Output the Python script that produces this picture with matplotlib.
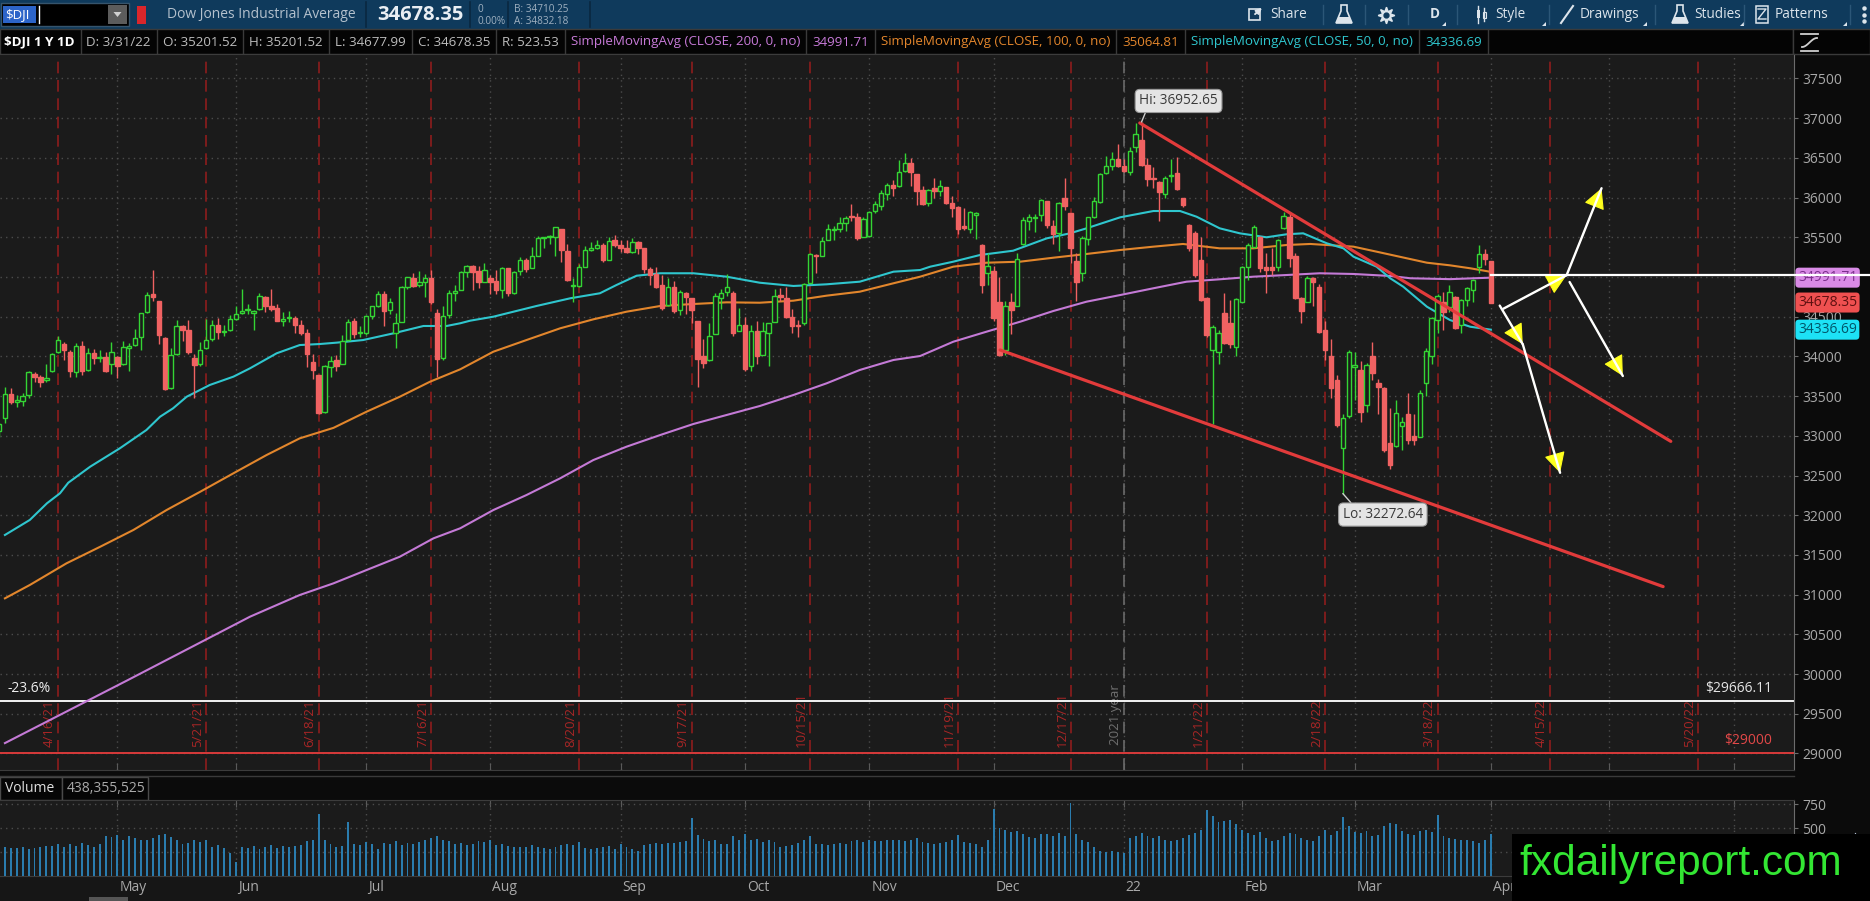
import numpy as np
import pandas as pd
import matplotlib
matplotlib.use("Agg")
import matplotlib.pyplot as plt
import matplotlib.transforms as mtrans
from matplotlib.patches import Rectangle, Polygon, FancyArrowPatch

plt.rcParams["font.family"] = ["Open Sans", "DejaVu Sans"]

# ------------------------------------------------------------------ data
holidays = ["2021-04-02", "2021-05-31", "2021-07-05", "2021-09-06", "2021-11-25",
            "2021-12-24", "2022-01-17", "2022-02-21", "2022-04-15", "2022-05-30",
            "2022-06-20"]
days = pd.bdate_range("2021-04-01", "2022-06-30")
days = days[~days.isin(pd.to_datetime(holidays))]

closes = [
    33153, 33527, 33430, 33446, 33504, 33801, 33745, 33677, 33731, 34036, 34201, 34078, 33821, 34137, 33816, 34043, 33982, 33985, 33820, 34060, 33875,
    34113, 34133, 34230, 34549, 34778, 34743, 34269, 33588, 34021, 34382, 34328, 34061, 33896, 34084, 34208, 34394, 34312, 34323, 34465, 34529,
    34575, 34600, 34577, 34756, 34630, 34600, 34447, 34466, 34480, 34394, 34299, 34034, 33823, 33290, 33877, 33946, 33874, 34197, 34434, 34283, 34292, 34503,
    34634, 34786, 34577, 34682, 34422, 34870, 34996, 34889, 34933, 34987, 34688, 33962, 34512, 34798, 34823, 35062, 35144, 35059, 34931, 35085, 34935,
    34838, 35116, 34793, 35064, 35209, 35102, 35265, 35485, 35500, 35515, 35625, 35343, 34961, 34894, 35120, 35336, 35366, 35406, 35213, 35456, 35400, 35361,
    35313, 35444, 35369, 35100, 35031, 34879, 34608, 34870, 34578, 34814, 34751, 34585, 33970, 33920, 34258, 34765, 34798, 34869, 34300, 34391, 33844,
    34326, 34003, 34315, 34417, 34755, 34746, 34496, 34378, 34378, 34913, 35295, 35259, 35457, 35609, 35603, 35677, 35741, 35757, 35491, 35730, 35820,
    35914, 36053, 36158, 36124, 36328, 36432, 36320, 36080, 35921, 36100, 36087, 36142, 35931, 35871, 35602, 35619, 35814, 35804, 34899, 35136, 34484,
    34022, 34640, 34580, 35227, 35719, 35754, 35755, 35971, 35651, 35544, 35927, 35898, 35365, 34932, 35493, 35754, 35951, 36302, 36398, 36489, 36398, 36338,
    36585, 36800, 36407, 36236, 36232, 36069, 36252, 36290, 36114, 35912, 35368, 35029, 34715, 34265, 34364, 34298, 34168, 34161, 34725, 35132,
    35405, 35629, 35111, 35090, 35091, 35463, 35768, 35242, 34738, 34566, 34989, 34934, 34312, 34079, 33597, 33132, 33224, 34059, 33893,
    33295, 33891, 33795, 33615, 32817, 32633, 33286, 33174, 32944, 32945, 33544, 34063, 34481, 34755, 34553, 34807, 34358, 34708, 34861, 34956, 35294, 35229, 34678.35,
]
opens = [
    33055, 33222, 33527, 33430, 33440, 33520, 33780, 33745, 33700, 33810, 34050, 34150, 34060, 33800, 34130, 33830, 34040, 33980, 33990, 33900, 33990,
    33900, 34110, 34140, 34240, 34560, 34780, 34700, 34230, 33600, 34030, 34380, 34330, 33980, 33900, 34100, 34220, 34400, 34310, 34330, 34470,
    34550, 34580, 34550, 34600, 34750, 34630, 34610, 34450, 34480, 34480, 34390, 34300, 33930, 33770, 33300, 33870, 33950, 33900, 34210, 34440, 34290, 34290,
    34510, 34640, 34790, 34580, 34300, 34430, 34880, 34990, 34900, 34940, 34990, 34550, 33980, 34520, 34800, 34830, 35060, 35140, 35070, 34940, 34990,
    34950, 34840, 35110, 34800, 35070, 35210, 35110, 35270, 35490, 35500, 35510, 35600, 35330, 34890, 34890, 35130, 35340, 35370, 35400, 35220, 35460, 35400,
    35370, 35320, 35440, 35370, 35100, 35040, 34900, 34650, 34880, 34580, 34800, 34740, 34450, 34000, 33950, 34280, 34740, 34810, 34800, 34320, 34400,
    33880, 34320, 34020, 34300, 34430, 34770, 34730, 34500, 34390, 34420, 34930, 35280, 35270, 35470, 35590, 35610, 35680, 35760, 35750, 35500, 35520,
    35830, 35900, 36050, 36160, 36140, 36340, 36440, 36300, 36090, 35930, 36120, 36080, 36130, 35930, 35880, 35640, 35610, 35780, 35400, 35050, 35070,
    34690, 34080, 34690, 34630, 35420, 35700, 35740, 35780, 35960, 35640, 35560, 36000, 35800, 35200, 35050, 35480, 35760, 35940, 36310, 36400, 36490, 36400,
    36320, 36640, 36725, 36410, 36250, 36200, 36040, 36270, 36310, 35995, 35655, 35555, 35212, 34733, 34080, 34060, 34545, 34420, 34122, 34689,
    35125, 35380, 35500, 35130, 35120, 35130, 35620, 35760, 35270, 34740, 34690, 34990, 34880, 34330, 34000, 33700, 32850, 33250, 33870,
    33830, 33390, 34000, 33665, 33600, 32910, 32870, 33120, 33280, 33000, 32990, 33660, 34000, 34460, 34690, 34626, 34752, 34395, 34710, 34836, 35130, 35290, 35201.52,
]
highs = [
    33167, 33617, 33596, 33520, 33545, 33810, 33805, 33760, 33905, 34047, 34256, 34187, 34080, 34166, 34190, 34103, 34090, 34080, 34060, 34180, 34010,
    34190, 34163, 34348, 34549, 34811, 35091, 34700, 34240, 34110, 34460, 34390, 34455, 34030, 34184, 34470, 34460, 34480, 34390, 34525, 34630,
    34850, 34660, 34580, 34800, 34760, 34850, 34660, 34560, 34570, 34510, 34460, 34340, 34030, 33770, 33890, 34000, 34020, 34270, 34470, 34480, 34380, 34520,
    34640, 34820, 34820, 34730, 34550, 34890, 35000, 35050, 35070, 35040, 35090, 34600, 34630, 34830, 34900, 35080, 35150, 35150, 35140, 35170, 35030,
    35090, 35130, 35110, 35080, 35250, 35240, 35380, 35520, 35510, 35530, 35630, 35600, 35420, 34990, 35160, 35390, 35440, 35470, 35430, 35510, 35530, 35470,
    35460, 35490, 35450, 35370, 35130, 35120, 35030, 34990, 34950, 34830, 34810, 34740, 34450, 34220, 34420, 34800, 34850, 35040, 34820, 34610, 34490,
    34400, 34450, 34430, 34420, 34850, 34860, 34880, 34600, 34460, 34930, 35300, 35290, 35500, 35670, 35640, 35760, 35770, 35920, 35800, 35760, 35830,
    35960, 36090, 36190, 36220, 36470, 36565, 36500, 36300, 36140, 36110, 36250, 36220, 36130, 36020, 35900, 35870, 35830, 35820, 35410, 35300, 35140,
    35000, 34700, 34800, 35300, 35750, 35790, 35790, 35980, 35960, 35720, 35950, 36250, 35800, 35300, 35520, 35760, 36010, 36310, 36530, 36570, 36680, 36490,
    36640, 36935, 36952.65, 36500, 36390, 36210, 36270, 36480, 36510, 36000, 35670, 35580, 35500, 34750, 34400, 34330, 34800, 34710, 34740, 35140,
    35430, 35650, 35520, 35300, 35360, 35480, 35824, 35820, 35300, 34750, 35010, 35000, 34910, 34440, 34220, 33760, 33280, 34080, 34050,
    33940, 33920, 34180, 33720, 33620, 33350, 33450, 33240, 33540, 33270, 33580, 34100, 34500, 34780, 34815, 34900, 34760, 34720, 34870, 34970, 35400, 35350, 35201.52,
]
lows = [
    32985, 33155, 33400, 33365, 33371, 33480, 33680, 33616, 33680, 33800, 34044, 33950, 33738, 33740, 33760, 33810, 33900, 33930, 33800, 33780, 33730,
    33890, 33810, 34132, 34080, 34550, 34700, 34160, 33575, 33590, 34020, 34200, 34030, 33473, 33880, 34090, 34200, 34220, 34260, 34320, 34460,
    34530, 34530, 34335, 34590, 34560, 34570, 34440, 34380, 34430, 34290, 34270, 33870, 33720, 33270, 33290, 33740, 33820, 33900, 34200, 34230, 34250, 34270,
    34470, 34620, 34380, 34530, 34100, 34430, 34850, 34880, 34870, 34750, 34660, 33740, 33950, 34480, 34700, 34850, 35000, 34830, 34860, 34950, 34790,
    34790, 34730, 34760, 34790, 35030, 35060, 35110, 35270, 35370, 35410, 35260, 35190, 34950, 34690, 34880, 35120, 35330, 35350, 35190, 35220, 35380, 35310,
    35300, 35300, 35290, 35050, 34900, 34860, 34590, 34640, 34550, 34520, 34530, 34420, 33610, 33860, 33940, 34280, 34600, 34760, 34260, 34330, 33820,
    33820, 33900, 34020, 33880, 34430, 34700, 34480, 34300, 34240, 34400, 34920, 35050, 35260, 35460, 35460, 35570, 35580, 35700, 35470, 35500, 35510,
    35800, 35840, 35970, 36020, 36130, 36320, 36150, 35910, 35910, 35890, 35990, 36020, 35920, 35750, 35540, 35590, 35560, 35480, 34800, 34900, 34440,
    34010, 34020, 34280, 34630, 35400, 35590, 35570, 35700, 35620, 35420, 35330, 35840, 35180, 34700, 34950, 35400, 35740, 35930, 36300, 36350, 36390, 36320,
    36280, 36580, 36400, 36150, 36120, 35700, 36000, 36200, 36090, 35880, 35330, 35000, 34700, 34240, 33150, 33900, 34150, 34100, 34000, 34680,
    34960, 35370, 35060, 34800, 35020, 35080, 35600, 35120, 34720, 34420, 34680, 34640, 34290, 33960, 33480, 33110, 32272.64, 33230, 33450,
    33180, 33300, 33700, 33270, 32800, 32578, 32860, 32820, 32900, 32880, 32980, 33500, 33900, 34300, 34332, 34560, 34340, 34300, 34640, 34690, 35050, 35150, 34677.99,
]
volumes = [  # millions
    280, 300, 290, 295, 300, 285, 290, 300, 315, 310, 335, 300, 330, 315, 345, 320, 305, 335, 420, 410, 430,
    380, 420, 400, 380, 370, 400, 430, 440, 410, 380, 330, 340, 370, 350, 380, 300, 320, 290, 240, 150,
    300, 290, 310, 280, 300, 320, 290, 310, 300, 310, 320, 360, 380, 650, 380, 330, 300, 310, 560, 330, 320, 350,
    330, 280, 340, 330, 360, 320, 340, 330, 350, 370, 400, 420, 380, 360, 330, 340, 320, 330, 360, 350, 380,
    320, 330, 310, 300, 300, 300, 320, 300, 290, 280, 300, 320, 330, 320, 350, 290, 280, 290, 300, 310, 280, 330,
    300, 280, 260, 320, 330, 340, 330, 340, 340, 350, 360, 600, 430, 390, 360, 370, 330, 330, 420, 380, 440,
    380, 390, 350, 370, 350, 300, 310, 320, 340, 370, 420, 330, 330, 320, 330, 340, 330, 360, 370, 350, 380,
    360, 360, 370, 370, 380, 360, 380, 400, 350, 340, 330, 340, 350, 380, 430, 350, 340, 330, 300, 380, 700,
    500, 480, 460, 470, 440, 410, 400, 440, 440, 420, 450, 420, 760, 440, 380, 350, 300, 260, 250, 260, 250, 240,
    400, 420, 450, 420, 400, 420, 380, 360, 380, 400, 430, 450, 480, 690, 620, 560, 570, 580, 540, 480,
    450, 430, 460, 400, 360, 380, 420, 450, 440, 400, 380, 360, 420, 480, 430, 470, 615, 520, 460,
    450, 470, 420, 430, 520, 550, 540, 470, 440, 430, 470, 480, 460, 635, 420, 400, 390, 380, 370, 360, 340, 380, 438.355525,
]

# moving averages (bar index, value)
sma200_x = [1.0, 21.8, 42.4, 50.8, 56.5, 62.1, 67.7, 73.4, 77.9, 83.5, 89.1, 94.8, 100.4, 106.0, 111.7, 117.3, 122.9, 128.5, 134.2, 139.8,
            145.4, 151.1, 155.6, 161.2, 166.8, 172.5, 178.1, 183.7, 189.4, 195.0, 200.6, 206.2, 211.9, 217.5, 223.1, 228.8, 235.0, 238.4, 245.1, 252.0]
sma200_y = [29130, 29925, 30722, 30995, 31142, 31310, 31477, 31709, 31835, 32065, 32254, 32465, 32695, 32863, 33010, 33149, 33262, 33375, 33514, 33661,
            33829, 33955, 34005, 34185, 34311, 34437, 34572, 34689, 34773, 34858, 34941, 34971, 35004, 35025, 35047, 35038, 35013, 34984, 34973, 34991.71]
sma100_x = [1.0, 5.2, 11.4, 17.1, 22.7, 28.3, 34.0, 39.6, 45.2, 50.8, 56.5, 62.1, 67.7, 72.8, 77.9, 83.5, 89.1, 94.8, 100.4, 106.0,
            111.7, 117.3, 122.9, 128.5, 134.2, 139.8, 145.4, 151.1, 155.6, 161.2, 166.8, 172.5, 178.1, 183.7, 189.4, 195.0, 200.0, 206.2, 211.9, 217.5,
            221.5, 228.8, 232.7, 241.2, 245.1, 248.5, 252.0]
sma100_y = [30953, 31121, 31394, 31603, 31814, 32065, 32296, 32528, 32758, 32968, 33100, 33304, 33492, 33681, 33837, 34059, 34206, 34354, 34467, 34563,
            34635, 34660, 34681, 34676, 34702, 34765, 34815, 34921, 35004, 35130, 35180, 35193, 35243, 35290, 35340, 35382, 35416, 35361, 35361, 35403,
            35416, 35382, 35319, 35180, 35147, 35110, 35064.81]
sma50_x = [1.0, 5.2, 8.1, 10.3, 11.7, 15.4, 20.4, 24.9, 27.2, 29.4, 31.7, 35.6, 39.6, 42.4, 46.9, 50.8, 54.2, 57.0, 61.5, 66.6,
           71.7, 75.6, 77.9, 79.6, 83.5, 90.8, 96.5, 101.5, 104.3, 107.7, 111.7, 117.3, 122.9, 128.5, 134.2, 139.8, 145.4, 151.1, 155.6, 157.3,
           161.2, 165.7, 171.3, 177.0, 180.9, 183.7, 189.4, 195.0, 199.5, 202.3, 206.2, 209.6, 214.1, 217.5, 220.3, 224.3, 227.1, 228.8, 232.7, 235.0,
           237.2, 241.2, 245.1, 248.5, 252.0]
sma50_y = [31751, 31940, 32150, 32276, 32409, 32611, 32842, 33073, 33240, 33346, 33492, 33640, 33745, 33850, 34039, 34143, 34156, 34173, 34206, 34290,
           34383, 34383, 34417, 34450, 34500, 34635, 34732, 34795, 34899, 35016, 35047, 35047, 35004, 34928, 34887, 34908, 34941, 35067, 35088, 35130,
           35193, 35277, 35331, 35487, 35550, 35613, 35752, 35831, 35831, 35759, 35613, 35550, 35500, 35538, 35550, 35424, 35361, 35256, 35130, 34984,
           34878, 34626, 34458, 34374, 34336.69]

# analyst drawings (bar index, price)
upper_trend = ([192.7, 282.4], [36940, 32930])
lower_trend = ([169.1, 281.1], [34081, 31101])
level_line = 35030
fib_level, fib_label = 29666.11, "-23.6%"
support_level = 29000
arrows = [((253.5, 34640), (257.4, 34152)), ((257.4, 34152), (263.7, 32534)),
          ((254.1, 34600), (264.8, 35023)), ((264.8, 35023), (270.7, 36118)),
          ((265.3, 34937), (274.3, 33753))]
expirations = ["2021-04-16", "2021-05-21", "2021-06-18", "2021-07-16", "2021-08-20", "2021-09-17",
               "2021-10-15", "2021-11-19", "2021-12-17", "2022-01-21", "2022-02-18", "2022-03-18",
               "2022-04-15", "2022-05-20"]
month_names = ["May", "Jun", "Jul", "Aug", "Sep", "Oct", "Nov", "Dec", "22", "Feb", "Mar", "Apr"]
bid, ask = 34710.25, 34832.18
last_volume = 438355525

n = len(closes)
assert len(opens) == n and len(highs) == n and len(lows) == n and len(volumes) == n
o = np.array(opens, float); c = np.array(closes, float)
h = np.array(highs, float); l = np.array(lows, float)
xi = np.arange(n)

def day_index(d):
    return np.searchsorted(days, pd.Timestamp(d), side="right") - 1

month_starts = pd.date_range("2021-05-01", "2022-06-01", freq="MS")
month_pos = [np.searchsorted(days, m) - 1 for m in month_starts]

# ------------------------------------------------------------------ figure / layout
W, H = 1870, 901
BAR_PX, X0_PX = 5.92, -1.0
CHART_R = 1794
fig = plt.figure(figsize=(W / 100, H / 100), dpi=100)
fig.patch.set_facecolor("#0b0b0b")

def px_axes(left, top, right, bottom, **kw):
    return fig.add_axes([left / W, 1 - bottom / H, (right - left) / W, (bottom - top) / H], **kw)

ui = fig.add_axes([0, 0, 1, 1], zorder=-5)
ui.set_xlim(0, W); ui.set_ylim(H, 0); ui.axis("off")

ax = px_axes(0, 54, CHART_R, 770)
vol = px_axes(0, 800, CHART_R, 876)
xlim = ((0 - X0_PX) / BAR_PX, (CHART_R - X0_PX) / BAR_PX)
GRID = dict(color="#4c4c4c", linestyle=(0, (1, 3)), linewidth=1.0)
TXT = "#a9a9a9"
BG = "#1b1b1b"
FS = 10

for a in (ax, vol):
    a.set_facecolor(BG)
    a.set_xlim(*xlim)
    a.spines["left"].set_visible(False)
    a.spines["right"].set_color("#6c6c6c")
    a.spines["top"].set_color("#3c3c3c")
    a.spines["bottom"].set_color("#3c3c3c")
    a.yaxis.tick_right()
    a.set_xticks(month_pos)
    a.set_xticklabels([])
    a.grid(True, **GRID)
    a.set_axisbelow(True)
    a.tick_params(axis="y", colors="#6c6c6c", labelcolor=TXT, labelsize=FS, length=3, pad=3)
ax.tick_params(axis="x", direction="in", length=5, colors="#5a5a5a", bottom=True, top=False)
vol.tick_params(axis="x", direction="in", length=5, colors="#5a5a5a", bottom=False, top=True)

ax.set_ylim(28791.2, 37808.4)
ax.set_yticks(np.arange(29000, 37501, 500))
ax.set_yticklabels([f"{v:d}" for v in range(29000, 37501, 500)])
vol.set_ylim(0, 791.7)
vol.set_yticks([250, 500, 750])
vol.set_yticklabels(["250", "500", "750"])

bt = mtrans.blended_transform_factory(ax.transData, ax.transAxes)
rt = mtrans.blended_transform_factory(ax.transAxes, ax.transData)

# expiration lines + year marker
for d in expirations:
    k = day_index(d)
    ax.axvline(k, color="#8e1d1d", lw=1.2, linestyle=(0, (7, 4)), zorder=1)
    ts = pd.Timestamp(d)
    ax.text(k - 0.35, 0.032, f"{ts.month}/{ts.day}/{ts.strftime('%y')}", transform=bt, rotation=90,
            ha="right", va="bottom", color="#a82626", fontsize=9.5, zorder=1)
yk = day_index("2021-12-31")
ax.axvline(yk, color="#6a6a6a", lw=1.2, linestyle=(0, (7, 4)), zorder=1)
ax.text(yk - 0.35, 0.035, "2021 year", transform=bt, rotation=90, ha="right", va="bottom",
        color="#707070", fontsize=9.5, zorder=1)

# fib / support lines
ax.axhline(fib_level, color="#f2f2f2", lw=1.4, zorder=2)
ax.axhline(support_level, color="#d83a3a", lw=1.4, zorder=2)
ax.annotate(fib_label, xy=(0.004, fib_level), xycoords=rt, xytext=(0, 5), textcoords="offset pixels",
            ha="left", va="bottom", color="#eeeeee", fontsize=FS)
ax.annotate(f"\\${fib_level:.2f}", xy=(0.9877, fib_level), xycoords=rt, xytext=(0, 5),
            textcoords="offset pixels", ha="right", va="bottom", color="#e4e4e4", fontsize=FS)
ax.annotate(f"\\${support_level:d}", xy=(0.9877, support_level), xycoords=rt, xytext=(0, 5),
            textcoords="offset pixels", ha="right", va="bottom", color="#e24848", fontsize=FS)

# moving averages
ax.plot(sma200_x, sma200_y, color="#c47ad6", lw=1.5, zorder=3)
ax.plot(sma100_x, sma100_y, color="#e2862c", lw=1.5, zorder=3)
ax.plot(sma50_x, sma50_y, color="#2fc6ce", lw=1.5, zorder=3)

# candles: hollow green up bars, filled red down bars
up = c >= o
edge = np.where(up, "#34d434", "#f06262")
face = np.where(up, BG, "#f06262")
ax.vlines(xi, l, h, colors=edge, lw=1.0, zorder=4)
body_lo = np.minimum(o, c)
body_h = np.maximum(np.abs(c - o), 14)
ax.bar(xi, body_h, bottom=body_lo, width=0.74, color=face, edgecolor=edge, linewidth=1.0, zorder=5)

# trend lines
ax.plot(*upper_trend, color="#e23b3b", lw=2.3, solid_capstyle="round", zorder=6)
ax.plot(*lower_trend, color="#e23b3b", lw=2.3, solid_capstyle="round", zorder=6)

# scenario arrows: yellow heads under white shafts
for (x0, y0), (x1, y1) in arrows:
    ax.add_patch(FancyArrowPatch((x0, y0), (x1, y1), arrowstyle="-|>,head_length=0.8,head_width=0.42",
                                 mutation_scale=16, fc="#ffff1e", ec="#ffff1e", lw=0.8,
                                 shrinkA=0, shrinkB=0, clip_on=False, zorder=8))
    ax.plot([x0, x1], [y0, y1], color="white", lw=1.7, solid_capstyle="round", clip_on=False, zorder=9)

# horizontal level from last bar into the price scale
ax.plot([n - 1, (W - X0_PX) / BAR_PX], [level_line, level_line], color="white", lw=1.6,
        clip_on=False, zorder=9)

# hi / lo callouts
ih, il = int(np.argmax(h)), int(np.argmin(l))
box = dict(boxstyle="round,pad=0.3,rounding_size=0.35", fc="#e4e4e4", ec="#9a9a9a", lw=0.8)
ax.annotate(f"Hi: {h[ih]:.2f}", xy=(ih, h[ih]), xytext=(37, 21), textcoords="offset pixels",
            ha="center", va="center", fontsize=9.8, color="#3a3a3a", bbox=box, zorder=9,
            arrowprops=dict(arrowstyle="-", color="#cfcfcf", lw=1.0, shrinkA=0, shrinkB=0, relpos=(0.1, 0)))
ax.annotate(f"Lo: {l[il]:.2f}", xy=(il, l[il]), xytext=(40, -21), textcoords="offset pixels",
            ha="center", va="center", fontsize=9.8, color="#3a3a3a", bbox=box, zorder=9,
            arrowprops=dict(arrowstyle="-", color="#cfcfcf", lw=1.0, shrinkA=0, shrinkB=0, relpos=(0.15, 1)))

# price bubbles on the scale
for val, fc, tc in [(sma200_y[-1], "#d98be6", "#7b2f8c"), (closes[-1], "#ef5050", "#5e1010"),
                    (sma50_y[-1], "#1de2f6", "#00566a")]:
    ax.text(1.0022, val, f"{val:.2f}", transform=rt, ha="left", va="center", fontsize=FS, color=tc,
            bbox=dict(boxstyle="round,pad=0.18,rounding_size=0.25", fc=fc, ec="none"), clip_on=False, zorder=7)

# volume
vol.bar(xi, volumes, width=0.32, color="#2a7cae", linewidth=0, zorder=3)
vbt = mtrans.blended_transform_factory(vol.transData, vol.transAxes)
for pos, name in zip(month_pos, month_names):
    vol.text(pos + 0.35, -0.15, name, transform=vbt, ha="left", va="center", color=TXT, fontsize=FS, clip_on=False)

# ------------------------------------------------------------------ chrome
ui.add_patch(Rectangle((0, 0), W, 29, fc="#0f3a5c", ec="none"))
ui.add_patch(Rectangle((1, 3), 128, 23, fc="#000000", ec="#36546c", lw=1))
ui.add_patch(Rectangle((3, 6), 33, 17, fc="#2c64c8", ec="none"))
ui.text(5, 14.5, "\\$DJI", color="white", fontsize=9.5, va="center", ha="left")
ui.plot([38.5, 38.5], [6, 23], color="white", lw=1)
ui.add_patch(Rectangle((108, 5), 19, 19, fc="#5c5c5c", ec="none"))
ui.add_patch(Polygon([[113.5, 12], [121.5, 12], [117.5, 17]], closed=True, fc="#d0d0d0", ec="none"))
ui.add_patch(Rectangle((137, 6), 9, 18, fc="#d9262b", ec="none"))
ui.text(167, 14.5, "Dow Jones Industrial Average", color="#b4c1cd", fontsize=10, va="center")
for sx in [366, 470, 508, 590]:
    ui.plot([sx, sx], [2, 27], color="#0a2740", lw=1.2)
ui.text(377, 14.5, f"{closes[-1]:.2f}", color="#e9eef3", fontsize=14.5, fontweight="bold", va="center")
ui.text(478, 9, "0", color="#9fb0c0", fontsize=7.2, va="center")
ui.text(478, 21, "0.00%", color="#9fb0c0", fontsize=7.2, va="center")
ui.text(514, 9, f"B: {bid:.2f}", color="#9fb0c0", fontsize=7.2, va="center")
ui.text(514, 21, f"A: {ask:.2f}", color="#9fb0c0", fontsize=7.2, va="center")

TB = "#dde5ec"
TFS = 9.8
ui.add_patch(Rectangle((1249, 9), 11, 11, fc="none", ec=TB, lw=1.2))
ui.annotate("", xy=(1264, 6), xytext=(1253, 16), arrowprops=dict(arrowstyle="-|>", color=TB, lw=1.4, mutation_scale=8))
ui.text(1270, 14.5, "Share", color=TB, fontsize=TFS, va="center")
for fx in (1344, 1680):
    ui.add_patch(Polygon([[fx - 3, 5], [fx + 3, 5], [fx + 3, 11], [fx + 8, 23], [fx - 8, 23], [fx - 3, 11]],
                         closed=True, fc="none", ec=TB, lw=1.2))
    ui.add_patch(Polygon([[fx - 5.5, 17], [fx + 5.5, 17], [fx + 8, 23], [fx - 8, 23]], closed=True, fc=TB, ec="none"))
ui.plot(1385.5, 14.5, marker=(8, 1, 0), ms=12, color=TB)
ui.plot(1385.5, 14.5, marker="o", ms=3.5, color="#0f3a5c")
ui.text(1430, 14.5, "D", color=TB, fontsize=TFS, va="center", fontweight="bold")
ui.plot([1478, 1478], [6, 23], color=TB, lw=1); ui.add_patch(Rectangle((1476.5, 10), 3, 8, fc=TB, ec="none"))
ui.plot([1484, 1484], [8, 21], color=TB, lw=1); ui.add_patch(Rectangle((1482.5, 12), 3, 6, fc="none", ec=TB, lw=0.8))
ui.text(1495, 14.5, "Style", color=TB, fontsize=TFS, va="center")
ui.plot([1561, 1573], [23, 6], color=TB, lw=1.5)
ui.text(1580, 14.5, "Drawings", color=TB, fontsize=TFS, va="center")
ui.text(1694, 14.5, "Studies", color=TB, fontsize=TFS, va="center")
ui.add_patch(Rectangle((1756, 6), 12, 17, fc="none", ec=TB, lw=1.1))
ui.plot([1758, 1766, 1758, 1766], [9, 9, 19, 19], color=TB, lw=1)
ui.text(1775, 14.5, "Patterns", color=TB, fontsize=TFS, va="center")
ui.plot([1864, 1864, 1864], [8, 14.5, 21], "o", ms=2.2, color=TB)
for sx in [1323, 1365, 1408, 1457, 1549, 1655, 1744, 1850]:
    ui.plot([sx, sx], [5, 24], color="#2b5677", lw=1)
for tx in [1442, 1542, 1643, 1740, 1843]:
    ui.add_patch(Polygon([[tx, 26], [tx + 4, 26], [tx + 4, 22]], closed=True, fc=TB, ec="none"))

# study header row
ui.add_patch(Rectangle((0, 29), 1793, 25, fc="#040404", ec="#3a3a3a", lw=1))
ui.add_patch(Rectangle((1793, 29), 77, 25, fc="#040404", ec="#3a3a3a", lw=1))
ui.plot([1801, 1818], [34, 34], color="#cfcfcf", lw=1.3)
ui.plot([1801, 1818], [51, 51], color="#cfcfcf", lw=1.3)
tt = np.linspace(0, 1, 25)
ui.plot(1802 + 15 * tt, 42.5 + 4.5 * np.cos(np.pi * tt), color="#cfcfcf", lw=1.3)

G = "#bdbdbd"
hdr = [("\\$DJI 1 Y 1D", "#ffffff", "bold"), (f"D: {days[n - 1].month}/{days[n - 1].day}/{days[n - 1].strftime('%y')}", G, "normal"),
       (f"O: {o[-1]:.2f}", G, "normal"), (f"H: {h[-1]:.2f}", G, "normal"), (f"L: {l[-1]:.2f}", G, "normal"),
       (f"C: {c[-1]:.2f}", G, "normal"), (f"R: {h[-1] - l[-1]:.2f}", G, "normal"),
       ("SimpleMovingAvg (CLOSE, 200, 0, no)", "#c77ad8", "normal"), (f"{sma200_y[-1]:.2f}", "#c77ad8", "normal"),
       ("SimpleMovingAvg (CLOSE, 100, 0, no)", "#e3862c", "normal"), (f"{sma100_y[-1]:.2f}", "#e3862c", "normal"),
       ("SimpleMovingAvg (CLOSE, 50, 0, no)", "#2fc7cf", "normal"), (f"{sma50_y[-1]:.2f}", "#2fc7cf", "normal")]
renderer = fig.canvas.get_renderer()
xp = 4
for s, col, wgt in hdr:
    t = ui.text(xp, 42, s, color=col, fontsize=9.6, fontweight=wgt, va="center", ha="left")
    w = t.get_window_extent(renderer).width
    sep = xp + w + 6
    ui.plot([sep, sep], [30, 53], color="#3a3a3a", lw=1)
    xp = sep + 6

# volume header
ui.plot([0, CHART_R], [775.5, 775.5], color="#3a3a3a", lw=1)
ui.add_patch(Rectangle((0, 777), 62, 23, fc="#060606", ec="#4a4a4a", lw=1))
ui.add_patch(Rectangle((62, 777), 86, 23, fc="#060606", ec="#4a4a4a", lw=1))
ui.text(5, 788.5, "Volume", color="#e0e0e0", fontsize=FS, va="center")
ui.text(67, 788.5, f"{last_volume:,}", color=TXT, fontsize=FS, va="center")
ui.add_patch(Rectangle((0, 876), CHART_R, 25, fc="#161616", ec="none"))
ui.add_patch(Rectangle((89, 897), 39, 4, fc="#555555", ec="none"))
ui.text(1857, 890, "<Millions>", rotation=90, ha="center", va="bottom", color="#b8c8dc", fontsize=9)

# watermark
top = fig.add_axes([0, 0, 1, 1], zorder=10)
top.set_xlim(0, W); top.set_ylim(H, 0); top.axis("off")
top.add_patch(Rectangle((1512, 834), W - 1512, H - 834, fc="#000000", ec="none"))
top.text(1519, 864, "fxdailyreport.com", color="#33e633", fontsize=30.5, va="center", ha="left",
         family=["Liberation Sans", "DejaVu Sans"])

fig.savefig("out.png", dpi=100, facecolor=fig.get_facecolor())
